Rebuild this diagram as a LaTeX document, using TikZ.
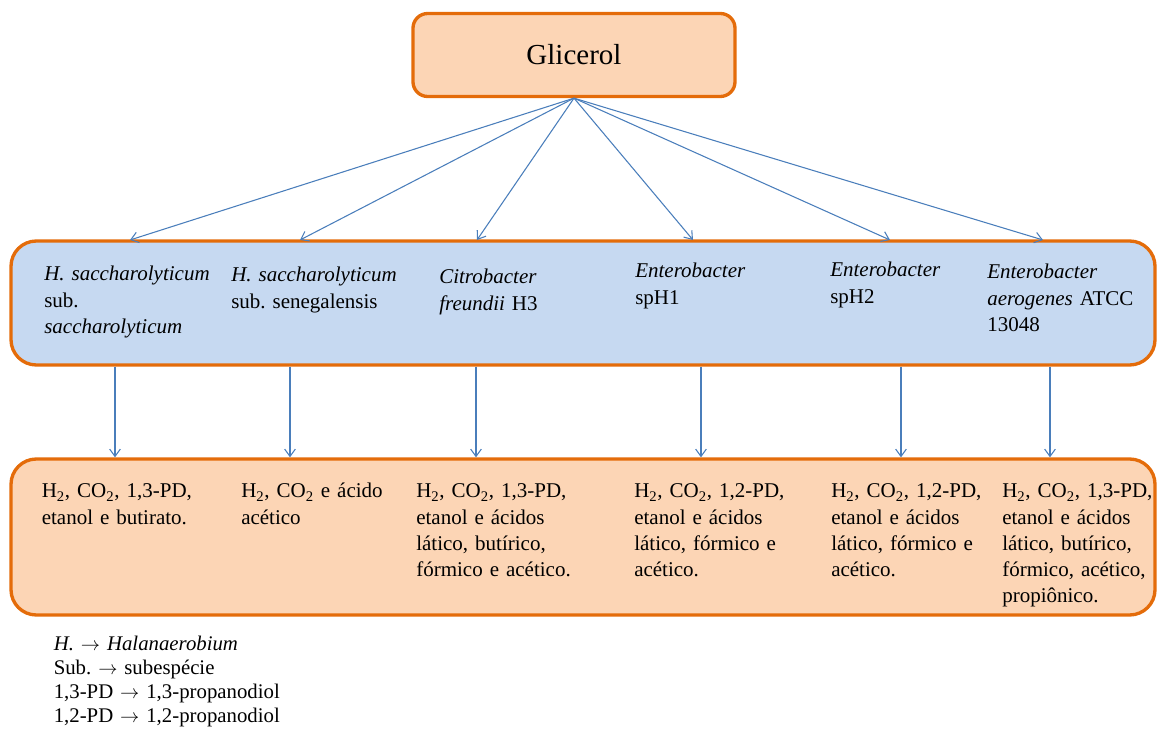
\documentclass[tikz,border=0pt]{standalone}
\usepackage{fontspec}
\setmainfont{Liberation Serif}
\frenchspacing
\usetikzlibrary{arrows.meta}
\definecolor{borda}{HTML}{E46C0A}
\definecolor{laranja}{HTML}{FCD5B5}
\definecolor{azul}{HTML}{C6D9F1}
\definecolor{seta}{HTML}{4A7EBB}
\tikzstyle{substrato} = [rectangle, rounded corners=11pt, minimum width=241.5pt, minimum height=62.25pt,text centered, draw=borda, line width=2.5pt, fill=laranja, font=\fontsize{21.75}{26}\selectfont]
\tikzstyle{cepa} = [rectangle, rounded corners=19pt, minimum width=858pt, minimum height=93pt, draw=borda, line width=2.5pt, fill=azul]
\tikzstyle{produto} = [rectangle, rounded corners=19pt, minimum width=858pt, minimum height=117pt, draw=borda, line width=2.5pt, fill=laranja]
\tikzstyle{texto} = [anchor=base west, inner sep=0pt, text width=135pt, align=left, font=\fontsize{15.75}{19.65}\selectfont]
\tikzstyle{legenda} = [anchor=base west, inner sep=0pt, text width=220pt, align=left, font=\fontsize{15.6}{18.2}\selectfont]
\tikzstyle{arrow} = [draw=seta, line width=0.8pt, -{Straight Barb[length=5.5pt,width=8pt]}]

\begin{document}
\begin{tikzpicture}[x=0.75pt, y=-0.75pt, node distance=175.5pt]
\useasboundingbox (0,0) rectangle (1157,737);
\node (glic) [substrato] at (574,55) {Glicerol};
\node (cepas) [cepa, below of=glic, xshift=6.75pt, yshift=-10.5pt] {};
\node (prods) [produto, below of=cepas] {};
\node (c1) [texto] at (44,281) {\textit{H. saccharolyticum}\\sub.\\\textit{saccharolyticum}};
\node (c2) [texto] at (231,282) {\textit{H. saccharolyticum}\\sub. senegalensis};
\node (c3) [texto] at (439,284) {\textit{Citrobacter}\\\textit{freundii} H3};
\node (c4) [texto] at (635,278) {\textit{Enterobacter}\\spH1};
\node (c5) [texto] at (830,277) {\textit{Enterobacter}\\spH2};
\node (c6) [texto] at (987,279) {\textit{Enterobacter}\\\textit{aerogenes} ATCC\\13048};
\node (p1) [texto] at (41.5,498) {H\textsubscript{2}, CO\textsubscript{2}, 1,3-PD,\\etanol e butirato.};
\node (p2) [texto] at (241,498) {H\textsubscript{2}, CO\textsubscript{2} e ácido\\acético};
\node (p3) [texto] at (416,498) {H\textsubscript{2}, CO\textsubscript{2}, 1,3-PD,\\etanol e ácidos\\lático, butírico,\\fórmico e acético.};
\node (p4) [texto] at (634,498) {H\textsubscript{2}, CO\textsubscript{2}, 1,2-PD,\\etanol e ácidos\\lático, fórmico e\\acético.};
\node (p5) [texto] at (831,498) {H\textsubscript{2}, CO\textsubscript{2}, 1,2-PD,\\etanol e ácidos\\lático, fórmico e\\acético.};
\node (p6) [texto] at (1002,498) {H\textsubscript{2}, CO\textsubscript{2}, 1,3-PD,\\etanol e ácidos\\lático, butírico,\\fórmico, acético,\\propiônico.};
\node (leg) [legenda] at (53.5,650) {\textit{H.} $\rightarrow$ \textit{Halanaerobium}\\Sub. $\rightarrow$ subespécie\\1,3-PD $\rightarrow$ 1,3-propanodiol\\1,2-PD $\rightarrow$ 1,2-propanodiol};
\coordinate (a1) at (130,240);
\coordinate (a2) at (300,240);
\coordinate (a3) at (477,240);
\coordinate (a4) at (693,240);
\coordinate (a5) at (890,240);
\coordinate (a6) at (1043,240);
\coordinate (b1) at (115,0);
\coordinate (b2) at (290,0);
\coordinate (b3) at (476,0);
\coordinate (b4) at (701,0);
\coordinate (b5) at (901,0);
\coordinate (b6) at (1050,0);
\draw [arrow] (glic.south) -- (a1);
\draw [arrow] (glic.south) -- (a2);
\draw [arrow] (glic.south) -- (a3);
\draw [arrow] (glic.south) -- (a4);
\draw [arrow] (glic.south) -- (a5);
\draw [arrow] (glic.south) -- (a6);
\draw [arrow] (cepas.south -| b1) -- (prods.north -| b1);
\draw [arrow] (cepas.south -| b2) -- (prods.north -| b2);
\draw [arrow] (cepas.south -| b3) -- (prods.north -| b3);
\draw [arrow] (cepas.south -| b4) -- (prods.north -| b4);
\draw [arrow] (cepas.south -| b5) -- (prods.north -| b5);
\draw [arrow] (cepas.south -| b6) -- (prods.north -| b6);
\end{tikzpicture}
\end{document}
